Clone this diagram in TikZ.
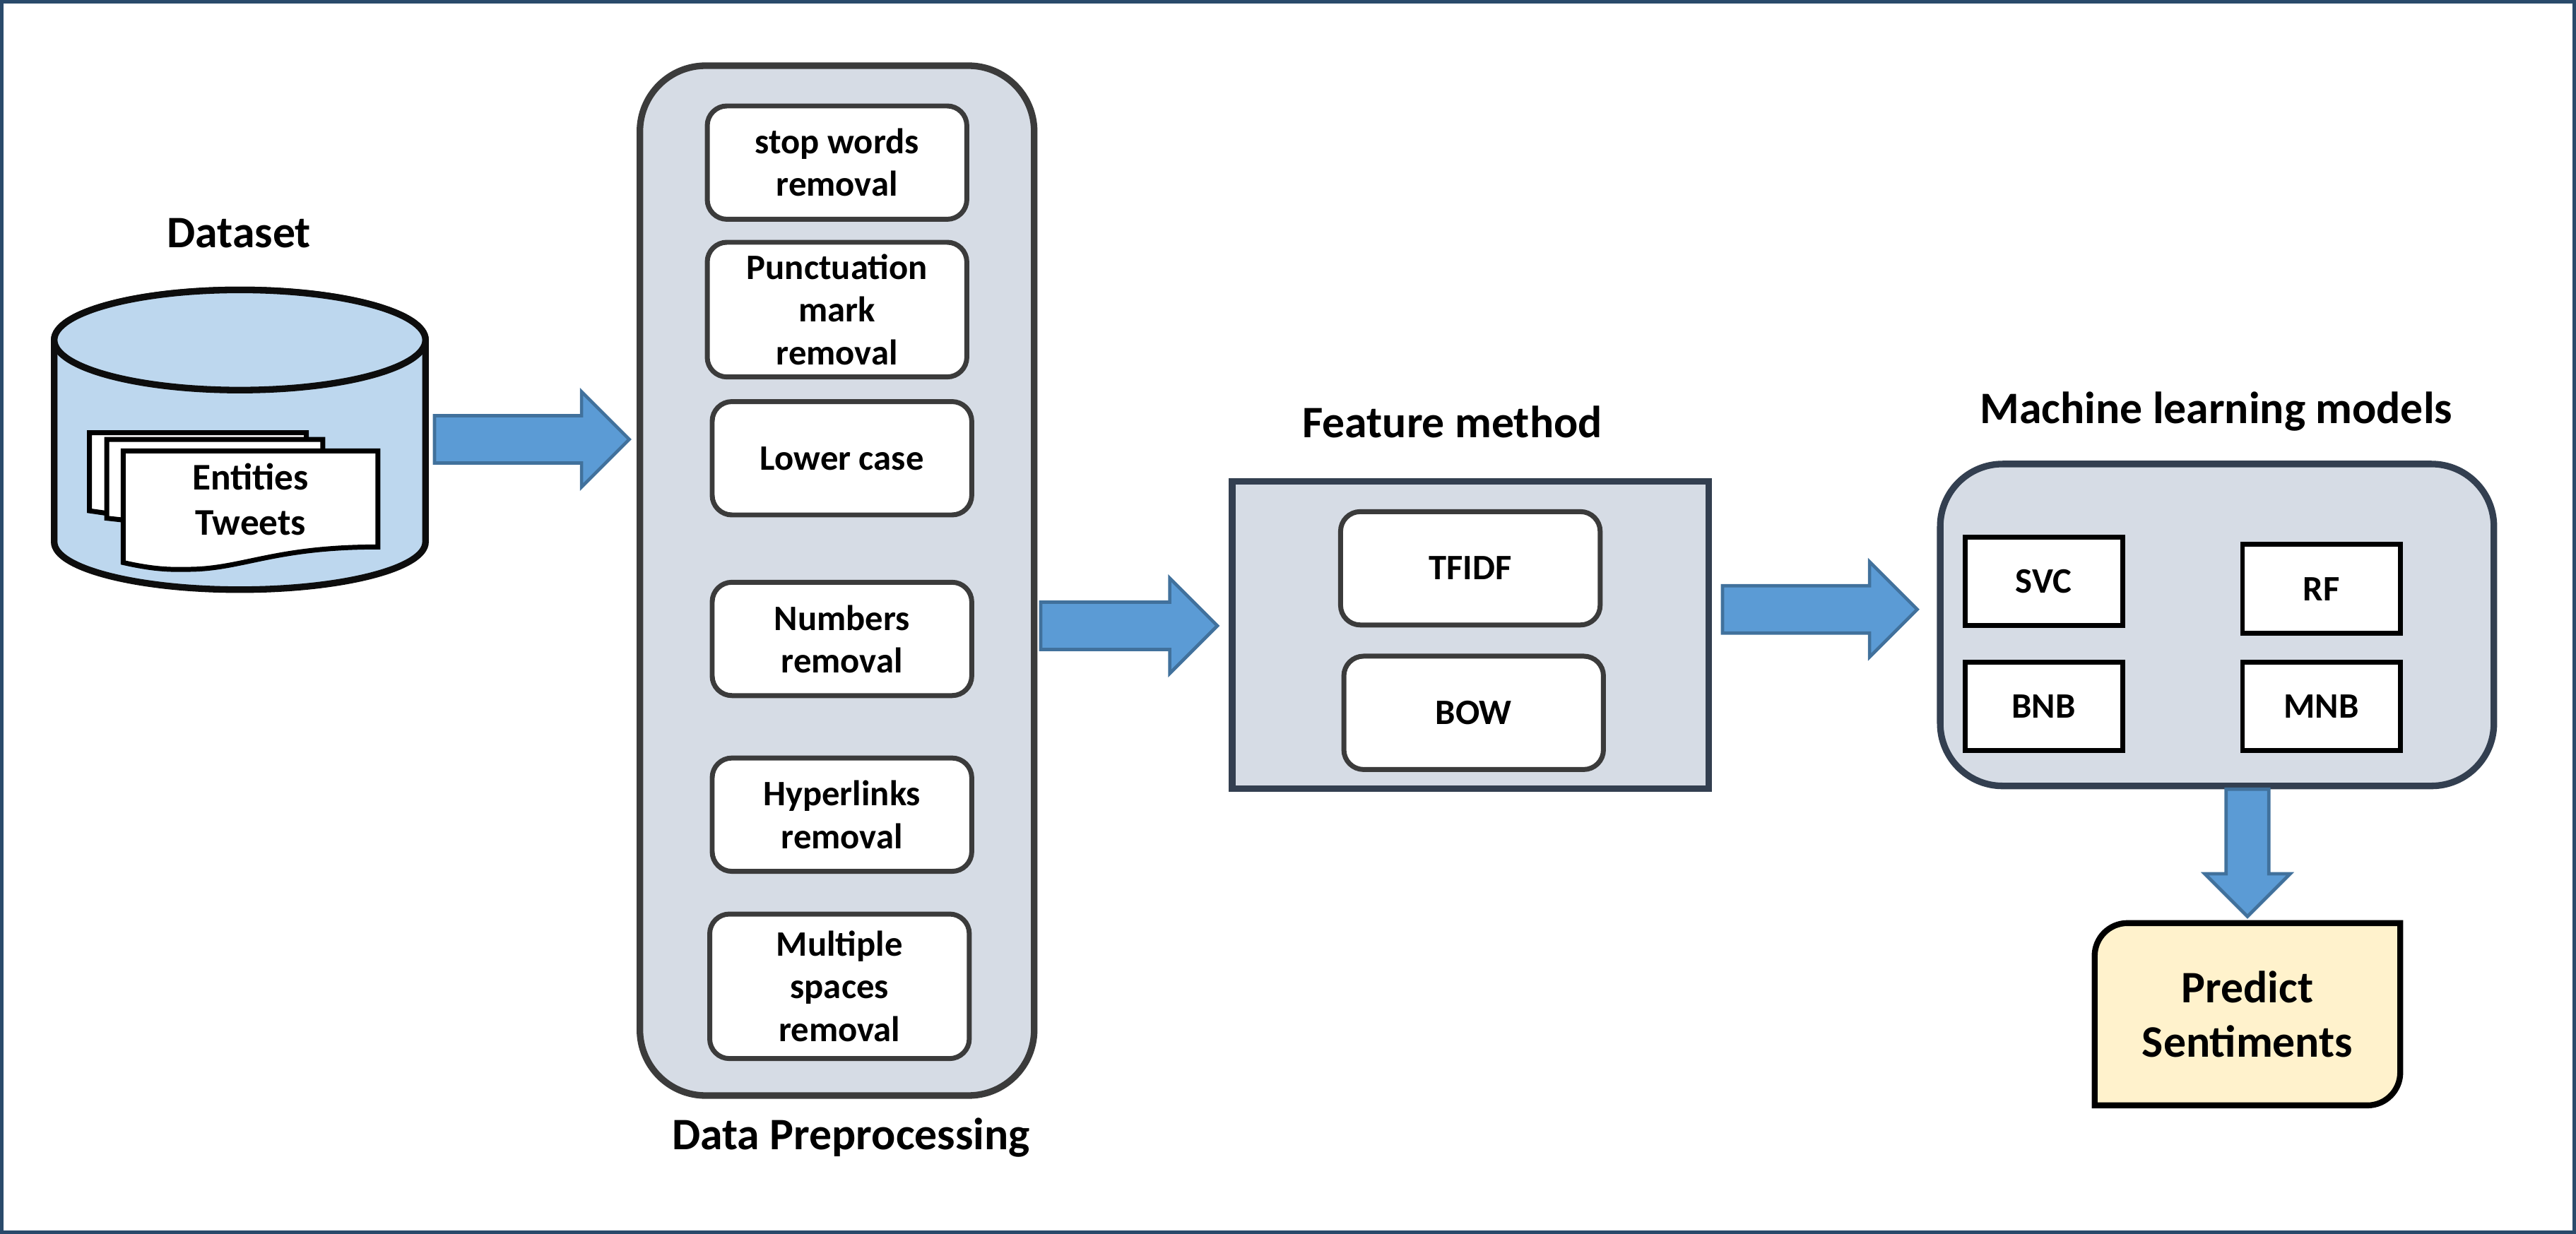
\documentclass[tikz,border=0pt]{standalone}
\usepackage{fontspec}
\setmainfont{Carlito}
\usepackage{tikz}
\usetikzlibrary{calc}

\definecolor{framecol}{HTML}{2A4A6B}
\definecolor{panelcol}{HTML}{D6DCE5}
\definecolor{darkline}{HTML}{333F50}
\definecolor{greyline}{HTML}{3B3B3B}
\definecolor{drumcol}{HTML}{BDD7EE}
\definecolor{arrowcol}{HTML}{5B9BD5}
\definecolor{arrowline}{HTML}{41719C}
\definecolor{resultcol}{HTML}{FFF2CC}

\newcommand{\blockarrow}[5]{%
    \coordinate (hb) at ($(#2)!#5!(#1)$);
    \draw[blockstyle] ($(#1)!#3!90:(#2)$) -- ($(hb)!#3!90:(#2)$) -- ($(hb)!#4!90:(#2)$) -- (#2)
        -- ($(hb)!#4!-90:(#2)$) -- ($(hb)!#3!-90:(#2)$) -- ($(#1)!#3!-90:(#2)$) -- cycle;
}

\begin{document}
\begin{tikzpicture}[
                    x=0.25mm,
                    y=-0.25mm,
                    blockstyle/.style={
                        draw=arrowline,
                        fill=arrowcol,
                        line width=0.5mm,
                        miter limit=20
                    },
                    title/.style={
                        font=\fontsize{19.5}{23}\selectfont\bfseries
                    },
                    panel/.style={
                        draw=darkline,
                        fill=panelcol,
                        line width=1mm
                    },
                    stepbox/.style={
                        rectangle,
                        draw=greyline,
                        fill=white,
                        rounded corners=3mm,
                        line width=0.75mm,
                        minimum width=39.5mm,
                        minimum height=17.25mm,
                        align=center,
                        font=\fontsize{15.5}{18.4}\selectfont\bfseries
                    },
                    modelbox/.style={
                        rectangle,
                        draw=black,
                        fill=white,
                        line width=0.75mm,
                        minimum width=24mm,
                        minimum height=13.5mm,
                        font=\fontsize{15.5}{18.4}\selectfont\bfseries
                    },
                    sheet/.style={
                        draw=black,
                        fill=white,
                        line width=0.75mm
                    }
                ]

    \useasboundingbox (0,0) rectangle (1568,751.3);
    \draw[framecol, line width=0.5mm] (1,1) rectangle (1567,750.3);

    % Dataset
    \node[title] (datasetlabel) at (145.5,142) {Dataset};
    \draw[fill=drumcol, draw=black!95, line width=1mm]
        (33,207) -- (33,330) arc[start angle=180, end angle=360, x radius=113, y radius=-29]
        -- (259,207) arc[start angle=0, end angle=180, x radius=113, y radius=-30.5] -- cycle;
    \draw[fill=drumcol, draw=black!95, line width=1mm] (146,207) ellipse[x radius=113, y radius=30.5];
    \draw[sheet] (54.5,311) -- (54.5,263.5) -- (186.5,263.5) -- (186.5,330) -- cycle;
    \draw[sheet] (65,315.5) -- (65,267.5) -- (196.5,267.5) -- (196.5,330) -- cycle;
    \draw[sheet] (75,274.5) -- (230,274.5) -- (230,333) .. controls (170,333) and (150,345) .. (120,346.5)
        .. controls (105,347) and (95,347) .. (75,342.5) -- cycle;
    \node[align=center, font=\fontsize{16.3}{19.5}\selectfont\bfseries] (entities) at (152.5,304) {Entities\\Tweets};

    % Data preprocessing
    \node[rectangle, draw=greyline, fill=panelcol, rounded corners=10mm, line width=1mm,
          minimum width=60mm, minimum height=156.75mm] (prepanel) at (509.5,353.5) {};
    \node[stepbox] (stop) at (509.5,99) {stop words\\removal};
    \node[stepbox, minimum height=20.5mm] (punct) at (509.5,188.5) {Punctuation\\mark\\removal};
    \node[stepbox] (lower) at (512.5,279) {Lower case};
    \node[stepbox] (numbers) at (512.5,389) {Numbers\\removal};
    \node[stepbox] (links) at (512.5,496) {Hyperlinks\\removal};
    \node[stepbox, minimum height=22mm] (spaces) at (511,600.5) {Multiple\\spaces\\removal};
    \node[title] (prelabel) at (518,692.5) {Data Preprocessing};

    % Feature method
    \node[title] (featlabel) at (884,257) {Feature method};
    \node[rectangle, panel, minimum width=72.5mm, minimum height=46.75mm] (featpanel) at (895,386.5) {};
    \node[stepbox] (tfidf) at (895,346) {TFIDF};
    \node[stepbox] (bow) at (897,434) {BOW};

    % Machine learning models
    \node[title] (modlabel) at (1349,250.5) {Machine learning models};
    \node[rectangle, panel, rounded corners=9.5mm, minimum width=84.25mm, minimum height=49mm] (modpanel) at (1349.5,380.5) {};
    \node[modelbox] (svc) at (1244,354) {SVC};
    \node[modelbox] (rf) at (1413,358.5) {RF};
    \node[modelbox] (bnb) at (1244,430) {BNB};
    \node[modelbox] (mnb) at (1413,430) {MNB};

    % Result
    \draw[fill=resultcol, draw=black, line width=0.9mm]
        (1275,673) [rounded corners=5mm] -- (1275,562) [sharp corners] -- (1461,562)
        [rounded corners=5mm] -- (1461,673) [sharp corners] -- cycle;
    \node[align=center, font=\fontsize{19.5}{23.4}\selectfont\bfseries] (predict) at (1368,617.5) {Predict\\Sentiments};

    % Arrows
    \coordinate (a1s) at (264.5,267.5);
    \coordinate (a1e) at (383,267.5);
    \coordinate (a2s) at (633.5,381);
    \coordinate (a2e) at (741,381);
    \coordinate (a3s) at (1048.5,371);
    \coordinate (a3e) at (1167,371);
    \coordinate (a4s) at (modpanel.south -| predict);
    \coordinate (a4e) at (1368,558);
    \blockarrow{a1s}{a1e}{3.6mm}{7.25mm}{7.25mm}
    \blockarrow{a2s}{a2e}{3.6mm}{7.25mm}{7.25mm}
    \blockarrow{a3s}{a3e}{3.6mm}{7.25mm}{7.25mm}
    \blockarrow{a4s}{a4e}{3.25mm}{6.5mm}{6.5mm}
\end{tikzpicture}
\end{document}
